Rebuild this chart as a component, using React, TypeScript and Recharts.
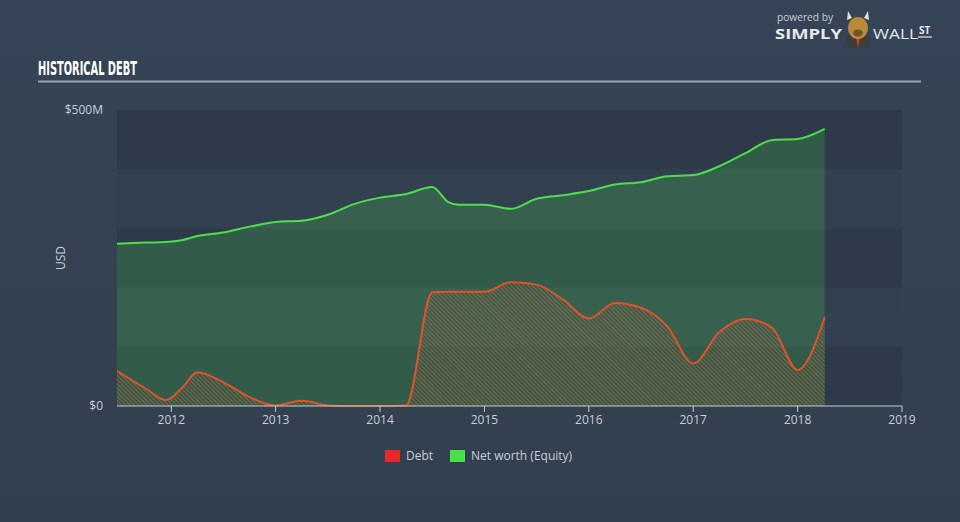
import { Area, ComposedChart, ReferenceArea, XAxis, YAxis } from "recharts";

// time in decimal years, values in $M
const dates = [
  2011.48, 2011.75, 2011.95, 2012.1, 2012.25, 2012.5, 2012.75, 2013.0, 2013.25, 2013.5,
  2013.75, 2014.0, 2014.25, 2014.5, 2014.65, 2014.75, 2015.0, 2015.25, 2015.5, 2015.75,
  2016.0, 2016.25, 2016.5, 2016.75, 2017.0, 2017.25, 2017.5, 2017.75, 2018.0, 2018.26,
];
const debtValues = [
  59, 30, 10, 30, 57, 40, 15, 1, 9, 1,
  0, 0, 1, 192, 193, 193, 193, 209, 205, 180,
  148, 174, 166, 135, 72, 125, 147, 133, 61, 150,
];
const equityValues = [
  274, 276, 277, 280, 287, 293, 303, 311, 313, 323,
  341, 352, 358, 370, 345, 340, 340, 333, 350, 356,
  363, 374, 378, 388, 390, 405, 427, 449, 451, 468,
];
const yearTicks = [2012, 2013, 2014, 2015, 2016, 2017, 2018, 2019];
const valueTicks = [0, 500];
const bandEdges = [0, 100, 200, 300, 400, 500];
const seriesNames = ["Debt", "Net worth (Equity)"];

const data = dates.map((t, i) => ({ t, debt: debtValues[i], equity: equityValues[i] }));

const FONT = "'Open Sans', 'DejaVu Sans', sans-serif";
const TEXT = "#c9ced4";
const RED = "#e0522a";
const GREEN = "#4be04b";

export default function App() {
  return (
    <div
      style={{
        position: "absolute",
        left: 0,
        top: 0,
        width: 960,
        height: 522,
        background: "linear-gradient(180deg, #354456 0%, #323f4f 100%)",
        fontFamily: FONT,
        overflow: "hidden",
      }}
    >
      <ComposedChart
        width={960}
        height={522}
        data={data}
        margin={{ top: 110, right: 58, bottom: 86, left: 57 }}
      >
        <defs>
          <pattern
            id="hatch"
            width="3"
            height="3"
            patternUnits="userSpaceOnUse"
            patternTransform="rotate(-45)"
          >
            <line x1="0" y1="0" x2="0" y2="3" stroke="#c4643d" strokeWidth="1.4" />
          </pattern>
        </defs>
        {bandEdges.slice(0, -1).map((v, i) => (
          <ReferenceArea
            key={v}
            y1={v}
            y2={bandEdges[i + 1]}
            fill={i % 2 === 0 ? "#2e3a49" : "#334050"}
            fillOpacity={1}
            stroke="none"
            ifOverflow="hidden"
          />
        ))}
        <XAxis
          type="number"
          dataKey="t"
          domain={[2011.48, 2019]}
          ticks={yearTicks}
          allowDataOverflow
          height={30}
          stroke="#c6ccd3"
          tick={{ fill: TEXT, fontSize: 12, fontFamily: FONT }}
          tickSize={6}
          tickMargin={3}
        />
        <YAxis
          type="number"
          domain={[0, 500]}
          ticks={valueTicks}
          width={60}
          axisLine={false}
          tickLine={false}
          tickMargin={8}
          tick={{ fill: TEXT, fontSize: 12, fontFamily: FONT }}
          tickFormatter={(v: number) => (v === 0 ? "$0" : `$${v}M`)}
        />
        <Area
          type="monotone"
          dataKey="equity"
          stroke={GREEN}
          strokeWidth={2}
          fill="#4be04b"
          fillOpacity={0.2}
          isAnimationActive={false}
          dot={false}
          activeDot={false}
        />
        <Area
          type="monotone"
          dataKey="debt"
          stroke={RED}
          strokeWidth={2}
          fill="url(#hatch)"
          fillOpacity={0.85}
          isAnimationActive={false}
          dot={false}
          activeDot={false}
        />
      </ComposedChart>

      <svg
        width={960}
        height={522}
        style={{ position: "absolute", left: 0, top: 0, pointerEvents: "none" }}
      >
        <text
          x={38}
          y={75}
          fill="#ffffff"
          fontSize={19}
          fontWeight="bold"
          fontFamily="'DejaVu Sans Condensed', 'Liberation Sans Narrow', sans-serif"
          textLength={99}
          lengthAdjust="spacingAndGlyphs"
        >
          HISTORICAL DEBT
        </text>
        <line x1={38} y1={81.5} x2={921} y2={81.5} stroke="#9aa3ad" strokeWidth={2} />

        <text x={62} y={258} fill={TEXT} fontSize={12} textAnchor="middle" transform="rotate(-90 62 258)" dominantBaseline="middle">
          USD
        </text>

        {/* logo */}
        <text x={777} y={21} fill="#c9ced4" fontSize={10} fontFamily={FONT} textLength={56} lengthAdjust="spacingAndGlyphs">
          powered by
        </text>
        <text x={775} y={39} fill="#e6e8eb" fontSize={15} fontWeight="bold" fontFamily={FONT} textLength={67} lengthAdjust="spacingAndGlyphs">
          SIMPLY
        </text>
        <path d="M846 36 L870 36 L868 48 L848 48 Z" fill="#3d3d3d" />
        <path d="M856 38 L860 38 L858 47 Z" fill="#d0402a" />
        <ellipse cx={858} cy={28} rx={10} ry={11} fill="#b88a3a" />
        <ellipse cx={858} cy={33} rx={5} ry={3.5} fill="#6e5426" />
        <path d="M847 20 L848 11 L852 18 Z M869 20 L868 11 L864 18 Z" fill="#e8e0c8" />
        <text x={873} y={39} fill="#e6e8eb" fontSize={15} fontFamily={FONT} textLength={45} lengthAdjust="spacingAndGlyphs">
          WALL
        </text>
        <text x={919} y={34} fill="#e6e8eb" fontSize={10} fontWeight="bold" fontFamily={FONT}>
          ST
        </text>
        <line x1={918} y1={37} x2={932} y2={37} stroke="#e6e8eb" strokeWidth={1.2} />

        {/* legend */}
        <rect x={385} y={450} width={15} height={12} fill="#e8272a" />
        <text x={406} y={460} fill={TEXT} fontSize={12}>
          {seriesNames[0]}
        </text>
        <rect x={450} y={450} width={15} height={12} fill={GREEN} />
        <text x={471} y={460} fill={TEXT} fontSize={12}>
          {seriesNames[1]}
        </text>
      </svg>
    </div>
  );
}
